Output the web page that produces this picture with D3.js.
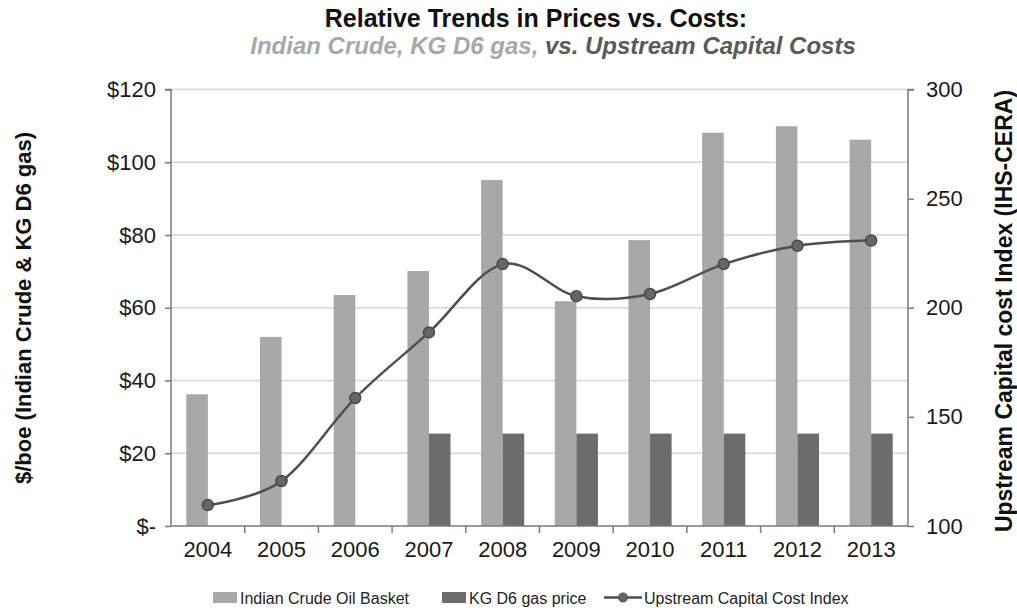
<!DOCTYPE html>
<html><head><meta charset="utf-8">
<script src="https://cdn.jsdelivr.net/npm/d3@7"></script>
<style>body{margin:0;background:#fff}svg{display:block}text{font-family:"Liberation Sans",Arial,sans-serif}</style>
</head><body>
<svg id="c" width="1017" height="611"></svg>
<script>
const years = ["2004","2005","2006","2007","2008","2009","2010","2011","2012","2013"];
const crudeBasket = [36.2, 52.0, 63.5, 70.1, 95.1, 61.8, 78.6, 108.1, 109.9, 106.2];
const kgD6Gas = [null, null, null, 25.4, 25.4, 25.4, 25.4, 25.4, 25.4, 25.4];
const capexIndex = [109.6, 120.6, 158.6, 188.7, 220, 205.3, 206.3, 220, 228.4, 230.8];
const leftTicks = [0, 20, 40, 60, 80, 100, 120];
const rightTicks = [100, 150, 200, 250, 300];
const seriesNames = ["Indian Crude Oil Basket", "KG D6 gas price", "Upstream Capital Cost Index"];

const svg = d3.select("#c");
const L = 171, R = 908, T = 89.5, B = 526;
const cLight = "#a8a8a8", cDark = "#6c6c6c", cLine = "#4f4f4f";

const x = d3.scaleBand().domain(years).range([L, R]).padding(0);
const groupW = x.bandwidth() * 0.585;
const x1 = d3.scaleBand().domain(["crude", "gas"]).range([0, groupW]);
const off = (x.bandwidth() - groupW) / 2;
const yL = d3.scaleLinear().domain([0, 120]).range([B, T]);
const yR = d3.scaleLinear().domain([100, 300]).range([B, T]);

// gridlines
svg.append("g").selectAll("line").data(leftTicks.slice(1)).join("line")
  .attr("x1", L).attr("x2", R).attr("y1", d => yL(d)).attr("y2", d => yL(d))
  .attr("stroke", "#d6d6d6").attr("stroke-width", 1.5);

// bars
svg.append("g").selectAll("rect").data(years.map((y, i) => ({y, v: crudeBasket[i]}))).join("rect")
  .attr("x", d => x(d.y) + off + x1("crude")).attr("width", x1.bandwidth())
  .attr("y", d => yL(d.v)).attr("height", d => yL(0) - yL(d.v)).attr("fill", cLight);
svg.append("g").selectAll("rect").data(years.map((y, i) => ({y, v: kgD6Gas[i]})).filter(d => d.v != null)).join("rect")
  .attr("x", d => x(d.y) + off + x1("gas")).attr("width", x1.bandwidth())
  .attr("y", d => yL(d.v)).attr("height", d => yL(0) - yL(d.v)).attr("fill", cDark);

// axes
const axL = svg.append("g").attr("transform", `translate(${L},0)`)
  .call(d3.axisLeft(yL).tickValues(leftTicks).tickSize(6).tickPadding(9)
    .tickFormat(d => d === 0 ? "$-" : "$" + d));
const axR = svg.append("g").attr("transform", `translate(${R},0)`)
  .call(d3.axisRight(yR).tickValues(rightTicks).tickSize(6).tickPadding(12));
const axB = svg.append("g").attr("transform", `translate(0,${B})`)
  .call(d3.axisBottom(x).tickSize(0).tickPadding(15));
[axL, axR, axB].forEach(a => {
  a.select(".domain").attr("stroke", "#7a7a7a").attr("stroke-width", 1.5);
  a.selectAll(".tick line").attr("stroke", "#7a7a7a").attr("stroke-width", 1.5);
  a.selectAll("text").attr("font-size", 22).attr("fill", "#1a1a1a")
   .attr("font-family", "Liberation Sans, Arial, sans-serif");
});
axL.select(".domain").attr("d", `M-6,${T}H0V${B}`);
axR.select(".domain").attr("d", `M6,${T}H0V${B}`);
axB.select(".domain").attr("d", `M${L},0H${R}`);
// category boundary ticks
svg.append("g").selectAll("line").data(years.slice(1)).join("line")
  .attr("x1", d => x(d)).attr("x2", d => x(d)).attr("y1", B).attr("y2", B + 7)
  .attr("stroke", "#7a7a7a").attr("stroke-width", 1.5);

// line
const pts = years.map((y, i) => [x(y) + x.bandwidth() / 2, yR(capexIndex[i])]);
svg.append("path").attr("d", d3.line().curve(d3.curveCatmullRom.alpha(0))(pts))
  .attr("fill", "none").attr("stroke", cLine).attr("stroke-width", 2.5);
svg.append("g").selectAll("circle").data(pts).join("circle")
  .attr("cx", d => d[0]).attr("cy", d => d[1]).attr("r", 5.5)
  .attr("fill", "#666").attr("stroke", "#4a4a4a").attr("stroke-width", 1.5);

// titles
svg.append("text").attr("x", 536).attr("y", 27).attr("text-anchor", "middle")
  .attr("font-size", 25).attr("font-weight", "bold").attr("fill", "#111")
  .text("Relative Trends in Prices vs. Costs:");
const t2 = svg.append("text").attr("x", 553).attr("y", 54).attr("text-anchor", "middle")
  .attr("font-size", 24).attr("font-weight", "bold").attr("font-style", "italic");
t2.append("tspan").attr("fill", "#a8a8a8").text("Indian Crude, KG D6 gas, ");
t2.append("tspan").attr("fill", "#5a5a5a").text("vs. Upstream Capital Costs");

svg.append("text").attr("transform", "translate(31,308) rotate(-90)").attr("text-anchor", "middle")
  .attr("font-size", 22).attr("font-weight", "bold").attr("fill", "#111")
  .text("$/boe (Indian Crude & KG D6 gas)");
svg.append("text").attr("transform", "translate(1012,311) rotate(-90)").attr("text-anchor", "middle")
  .attr("font-size", 23).attr("font-weight", "bold").attr("fill", "#111")
  .text("Upstream Capital cost Index (IHS-CERA)");

// legend
const lg = svg.append("g").attr("font-size", 16).attr("fill", "#222");
lg.append("rect").attr("x", 213).attr("y", 592).attr("width", 24).attr("height", 11).attr("fill", cLight);
lg.append("text").attr("x", 240).attr("y", 604).text(seriesNames[0]);
lg.append("rect").attr("x", 442).attr("y", 592).attr("width", 24).attr("height", 11).attr("fill", cDark);
lg.append("text").attr("x", 469).attr("y", 604).text(seriesNames[1]);
lg.append("line").attr("x1", 604).attr("x2", 642).attr("y1", 597.5).attr("y2", 597.5).attr("stroke", cLine).attr("stroke-width", 2.5);
lg.append("circle").attr("cx", 623).attr("cy", 597.5).attr("r", 4.5).attr("fill", "#666").attr("stroke", "#4a4a4a");
lg.append("text").attr("x", 644).attr("y", 604).text(seriesNames[2]);
</script>
</body></html>
